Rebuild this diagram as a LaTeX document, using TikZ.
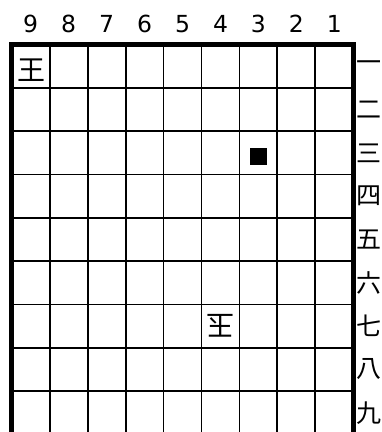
\documentclass[tikz,border=0pt]{standalone}
\usepackage{fontspec}
\setmainfont{DejaVu Sans}
\newfontfamily\jp{Noto Sans CJK JP}
\begin{document}
\begin{tikzpicture}[x=1pt,y=-1pt,
  gridline/.style={line width=1.9pt},
  frame/.style={line width=4.5pt},
  num/.style={font=\fontsize{23.5}{23.5}\selectfont, inner sep=0, anchor=base},
  rank/.style={font=\jp\fontsize{25}{25}\selectfont, anchor=west, inner sep=0},
  piece/.style={font=\jp\fontsize{28}{28}\selectfont, inner sep=0}]
\useasboundingbox (0,0) rectangle (382,432);
\fill[white] (0,0) rectangle (382,432);
\foreach \i in {1,...,8}
  \draw[gridline] ({11.7+37.96*\i},44.5) -- ({11.7+37.96*\i},434.5);
\foreach \j in {1,...,8}
  \draw[gridline] (11.7,{44.5+43.33*\j}) -- (353.3,{44.5+43.33*\j});
\draw[frame] (11.7,44.5) rectangle (353.3,434.5);
\foreach \n [count=\i from 0] in {9,8,7,6,5,4,3,2,1}
  \node[num] (c\n) at ({11.7+37.96*(\i+0.5)},32) {\n};
\foreach \r [count=\j from 1] in {一,二,三,四,五,六,七,八,九}
  \node[rank] (r\j) at (356,{44.5+43.33*(\j-0.5)}) {\r};
\node[piece] (k1) at (31,70) {王};
\node[piece, rotate=180] (k2) at (220.5,326) {玉};
\node[fill=black, minimum size=17pt, inner sep=0] (sq) at (258.5,156) {};
\end{tikzpicture}
\end{document}
